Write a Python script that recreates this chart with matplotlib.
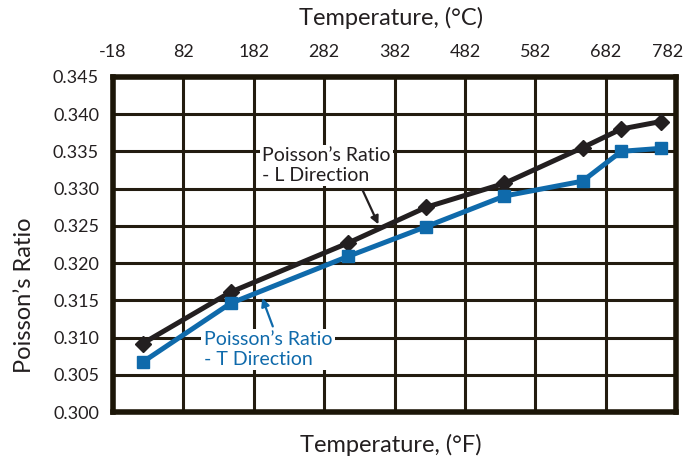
import matplotlib
matplotlib.use("Agg")
import matplotlib.pyplot as plt
import matplotlib.transforms as mtransforms

# Data (x in deg C)
temp_c = [24, 149, 316, 427, 538, 649, 704, 760]
ratio_l = [0.3092, 0.3161, 0.3227, 0.3275, 0.3307, 0.3355, 0.3380, 0.3390]
ratio_t = [0.3067, 0.3146, 0.3209, 0.3249, 0.3290, 0.3310, 0.3350, 0.3354]

xticks_c = [-18, 82, 182, 282, 382, 482, 582, 682, 782]
yticks = [0.300, 0.305, 0.310, 0.315, 0.320, 0.325, 0.330, 0.335, 0.340, 0.345]

BLACK = '#231f20'
BLUE = '#0f6aab'
GRID = '#231c10'

plt.rcParams['font.family'] = ['Lato', 'DejaVu Sans']

fig = plt.figure(figsize=(6.86, 4.63), dpi=100)
ax = fig.add_axes([0.1647, 0.110, 0.821, 0.724])

ax.plot(temp_c, ratio_l, color=BLACK, lw=3.6, marker='D', ms=8, zorder=4)
ax.plot(temp_c, ratio_t, color=BLUE, lw=3.6, marker='s', ms=9, zorder=5)

ax.set_xlim(-18, 782)
ax.set_ylim(0.300, 0.345)
ax.set_xticks(xticks_c)
ax.set_xticklabels([str(t) for t in xticks_c])
ax.set_yticks(yticks)
ax.set_yticklabels([f'{v:.3f}' for v in yticks])

ax.xaxis.tick_top()
ax.tick_params(axis='x', length=0, pad=12, labelsize=13, colors=BLACK)
ax.tick_params(axis='y', length=0, pad=10, labelsize=13, colors=BLACK)
# keep the last top label inside the canvas
last = ax.get_xticklabels()[-1]
last.set_transform(last.get_transform() +
                   mtransforms.ScaledTranslation(-6 / 72, 0, fig.dpi_scale_trans))

ax.grid(True, color=GRID, lw=2.2, zorder=1)
for s in ax.spines.values():
    s.set_linewidth(4)
    s.set_color('#1c1608')
    s.set_zorder(6)

fig.text(391 / 686, 1 - 18 / 463, 'Temperature, (°C)', ha='center', va='center',
         fontsize=17, color=BLACK)
fig.text(391 / 686, 1 - 445 / 463, 'Temperature, (°F)', ha='center', va='center',
         fontsize=17, color=BLACK)
fig.text(25 / 686, 1 - 295 / 463, 'Poisson’s Ratio', ha='center', va='center',
         rotation=90, fontsize=17, color=BLACK)

# Annotations
ax.text(194, 0.3331, 'Poisson’s Ratio\n- L Direction', fontsize=14, color=BLACK,
        ha='left', va='center', linespacing=1.2, zorder=7,
        bbox=dict(boxstyle='square,pad=0.12', fc='white', ec='none'))
ax.annotate('', xy=(359, 0.3252), xytext=(336, 0.3299),
            arrowprops=dict(arrowstyle='-|>', color=BLACK, lw=1.6, mutation_scale=12,
                            shrinkA=0, shrinkB=0), zorder=7)

ax.text(111, 0.3084, 'Poisson’s Ratio\n- T Direction', fontsize=14, color=BLUE,
        ha='left', va='center', linespacing=1.2, zorder=7,
        bbox=dict(boxstyle='square,pad=0.12', fc='white', ec='none'))
ax.annotate('', xy=(194, 0.3153), xytext=(209, 0.3115),
            arrowprops=dict(arrowstyle='-|>', color=BLUE, lw=1.6, mutation_scale=12,
                            shrinkA=0, shrinkB=0), zorder=7)

fig.savefig('out.png', dpi=100)
